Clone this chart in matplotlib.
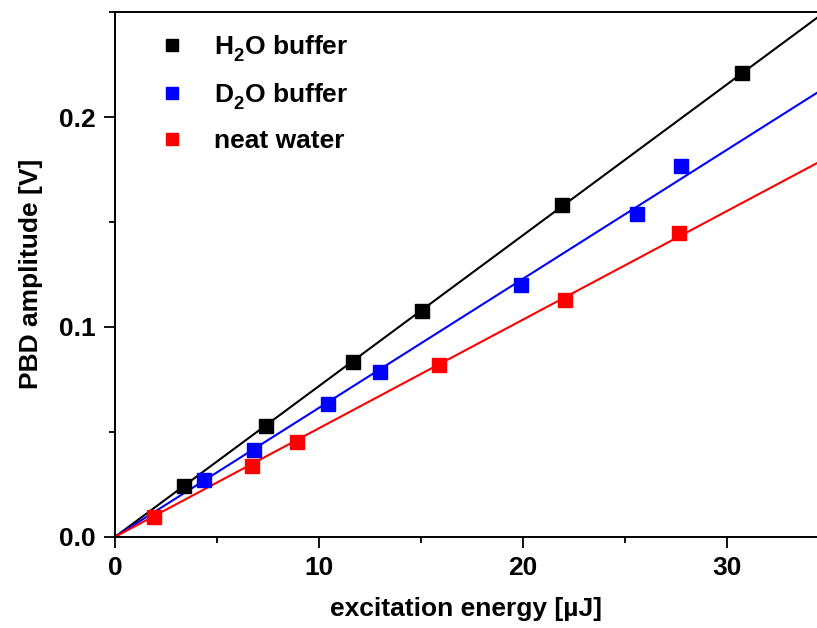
import numpy as np
import matplotlib
matplotlib.use('Agg')
import matplotlib.pyplot as plt
from matplotlib.ticker import MultipleLocator, FormatStrFormatter
import matplotlib._mathtext as mt

plt.rcParams['font.family'] = 'Liberation Sans'
plt.rcParams['font.weight'] = 'bold'
plt.rcParams['mathtext.fontset'] = 'custom'
plt.rcParams['mathtext.rm'] = 'Liberation Sans:bold'
plt.rcParams['mathtext.default'] = 'rm'
# drop the subscripts a bit lower, like in the original
mt.FontConstantsBase.sub1 = 0.5

h2o_x = [3.37, 7.39, 11.66, 15.05, 21.92, 30.75]
h2o_y = [0.0242, 0.0528, 0.0833, 0.1076, 0.1581, 0.2211]
d2o_x = [4.35, 6.80, 10.44, 12.99, 19.91, 25.60, 27.76]
d2o_y = [0.0270, 0.0413, 0.0633, 0.0786, 0.1200, 0.1538, 0.1767]
neat_x = [1.90, 6.71, 8.92, 15.88, 22.06, 27.65]
neat_y = [0.0094, 0.0337, 0.0452, 0.0819, 0.1129, 0.1448]

series = [
    (h2o_x, h2o_y, 'black', 'H$_2$O buffer'),
    (d2o_x, d2o_y, 'blue', 'D$_2$O buffer'),
    (neat_x, neat_y, 'red', 'neat water'),
]

fig = plt.figure(figsize=(8.17, 6.28), dpi=100)
ax = fig.add_axes([0.1411, 0.1454, 0.8589, 0.8355])

xmax = 34.43
xfit = np.array([0, xmax])
for x, y, c, lab in series:
    x = np.array(x)
    y = np.array(y)
    # linear fit through the origin
    k = np.sum(x * y) / np.sum(x * x)
    ax.plot(xfit, k * xfit, color=c, lw=1.5, zorder=2)
    ax.plot(x, y, 's', color=c, ms=10.5, label=lab, zorder=3)

ax.set_xlim(0, xmax)
ax.set_ylim(0, 0.2502)
ax.xaxis.set_major_locator(MultipleLocator(10))
ax.xaxis.set_minor_locator(MultipleLocator(5))
ax.yaxis.set_major_locator(MultipleLocator(0.1))
ax.yaxis.set_minor_locator(MultipleLocator(0.05))
ax.yaxis.set_major_formatter(FormatStrFormatter('%.1f'))

ax.spines['right'].set_visible(False)
for s in ['left', 'bottom', 'top']:
    ax.spines[s].set_linewidth(1.4)
ax.tick_params(which='both', direction='out', width=1.3, labelsize=19, top=False, right=False)
ax.tick_params(which='major', length=8, pad=6)
ax.tick_params(which='minor', length=4)

ax.set_xlabel('excitation energy [µJ]', fontsize=19, fontweight='bold', labelpad=12)
ax.set_ylabel('PBD amplitude [V]', fontsize=19, fontweight='bold', labelpad=12)

ax.legend(loc='upper left', bbox_to_anchor=(0.028, 1.005), frameon=False, fontsize=19,
          handlelength=1.0, handletextpad=1.1, labelspacing=0.68, markerscale=0.85)

plt.savefig('out.png', dpi=100)
